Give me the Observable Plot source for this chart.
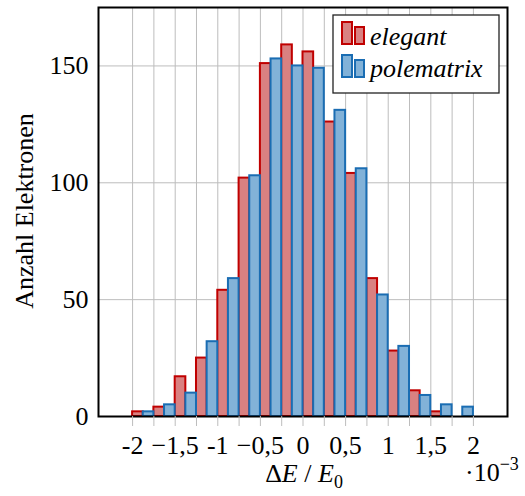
<!DOCTYPE html>
<html><head><meta charset="utf-8">
<script src="https://cdn.jsdelivr.net/npm/d3@7"></script>
<script src="https://cdn.jsdelivr.net/npm/@observablehq/plot@0.6"></script>
<style>
body{margin:0;background:#fff;}
#c{position:relative;width:525px;height:496px;font-family:'Liberation Serif','Times New Roman',serif;}
#c svg{display:block;}
#ov{position:absolute;left:0;top:0;pointer-events:none;}
</style></head><body><div id="c"></div>
<script>
// bin starts (units of 1e-3)
const binStart = [-2,-1.75,-1.5,-1.25,-1,-0.75,-0.5,-0.25,0,0.25,0.5,0.75,1,1.25,1.5,1.75];
const binWidth = 0.25;
const elegant    = [2,4,17,25,54,102,151,159,156,126,104,59,28,11,2,0];
const polematrix = [2,5,10,32,59,103,153,150,149,131,106,52,30,9,5,4];
const seriesNames = ["elegant","polematrix"];
const xTicks = [-2,-1.75,-1.5,-1.25,-1,-0.75,-0.5,-0.25,0,0.25,0.5,0.75,1,1.25,1.5,1.75,2];
const xTickLabels = ["-2","","−1,5","","-1","","−0,5","","0","","0,5","","1","","1,5","","2"];
const yTicks = [0,50,100,150];
const yGrid = [50,100,150];

const redFill = "#d98181", redStroke = "#c00000";
const blueFill = "#82b2d8", blueStroke = "#1a6db3";

const redData = binStart.map((s,i)=>({x1:s, x2:s+binWidth/2, n:elegant[i]})).filter(d=>d.n>0);
const blueData = binStart.map((s,i)=>({x1:s+binWidth/2, x2:s+binWidth, n:polematrix[i]})).filter(d=>d.n>0);

const FONT = "'Liberation Serif', 'Times New Roman', serif";
const plot = Plot.plot({
  width:525, height:496,
  marginLeft:98, marginRight:18, marginTop:7, marginBottom:80,
  x:{domain:[-2.4,2.4]},
  y:{domain:[0,175]},
  style:{fontFamily:FONT, fontSize:"26px", background:"#fff", color:"#000"},
  marks:[
    Plot.gridX(xTicks,{stroke:"#bdbdbd", strokeOpacity:1, strokeWidth:1}),
    Plot.gridY(yGrid,{stroke:"#bdbdbd", strokeOpacity:1, strokeWidth:1}),
    Plot.rect(redData,{x1:"x1", x2:"x2", y1:0, y2:"n", fill:redFill, stroke:redStroke, strokeWidth:2}),
    Plot.rect(blueData,{x1:"x1", x2:"x2", y1:0, y2:"n", fill:blueFill, stroke:blueStroke, strokeWidth:2}),
    Plot.frame({stroke:"#000", strokeWidth:2}),
    Plot.axisX({ticks:xTicks, tickFormat:d=>xTickLabels[xTicks.indexOf(d)], tickSize:10, tickPadding:9, stroke:"#bdbdbd", label:null}),
    Plot.axisY({ticks:yTicks, tickSize:0, tickPadding:10, label:null})
  ]
});
const c = document.getElementById("c");
c.appendChild(plot);

// overlay: legend and axis labels
const NS="http://www.w3.org/2000/svg";
const ov = document.createElementNS(NS,"svg");
ov.setAttribute("id","ov"); ov.setAttribute("width",525); ov.setAttribute("height",496);
ov.setAttribute("font-family",FONT);
ov.setAttribute("font-size","26");
ov.innerHTML = `
<rect x="333" y="15" width="166" height="78" fill="#fff" stroke="#222" stroke-width="1.3"/>
<rect x="342" y="22" width="10" height="22" fill="${redFill}" stroke="${redStroke}" stroke-width="2"/>
<rect x="355" y="27" width="9" height="17" fill="${redFill}" stroke="${redStroke}" stroke-width="2"/>
<text x="370" y="45" font-style="italic">${seriesNames[0]}</text>
<rect x="342" y="55" width="10" height="22" fill="${blueFill}" stroke="${blueStroke}" stroke-width="2"/>
<rect x="355" y="60" width="9" height="17" fill="${blueFill}" stroke="${blueStroke}" stroke-width="2"/>
<text x="370" y="77" font-style="italic">${seriesNames[1]}</text>
<text transform="translate(33,211) rotate(-90)" text-anchor="middle">Anzahl Elektronen</text>
<text x="304" y="482" text-anchor="middle">Δ<tspan font-style="italic">E</tspan> / <tspan font-style="italic">E</tspan><tspan font-size="18" dy="6">0</tspan></text>
<text x="465" y="481">·10<tspan font-size="18" dy="-11">−3</tspan></text>
`;
c.appendChild(ov);
</script>
</body></html>
